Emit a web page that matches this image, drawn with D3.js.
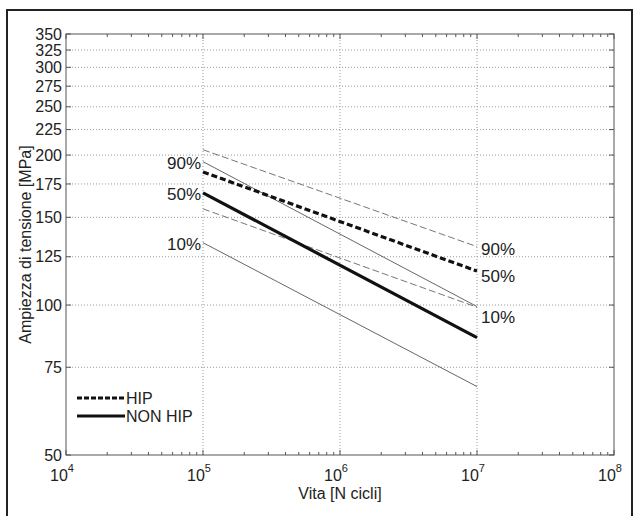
<!DOCTYPE html>
<html>
<head>
<meta charset="utf-8">
<script src="https://cdn.jsdelivr.net/npm/d3@7/dist/d3.min.js"></script>
<style>
  html, body { margin: 0; padding: 0; background: #fff; }
  svg { display: block; font-family: "Liberation Sans", Arial, sans-serif; }
</style>
</head>
<body>
<svg id="chart" width="633" height="516"></svg>
<script>
// ---- data ----
const cycles = [1e5, 1e7];
const hip50 = [185, 117];
const hip90 = [205, 131];
const hip10 = [156, 99];
const nonHip50 = [168, 86];
const nonHip90 = [194, 99.3];
const nonHip10 = [133.4, 68.6];
const yTicks = [50, 75, 100, 125, 150, 175, 200, 225, 250, 275, 300, 325, 350];
const xTicks = [1e4, 1e5, 1e6, 1e7, 1e8];
const xTickExp = ["4", "5", "6", "7", "8"];
const leftLabels = ["90%", "50%", "10%"];
const rightLabels = ["90%", "50%", "10%"];
const legendNames = ["HIP", "NON HIP"];

const svg = d3.select("#chart");
const L = 66, R = 614, T = 34, B = 455;
const x = d3.scaleLog().domain([1e4, 1e8]).range([L, R]);
const y = d3.scaleLog().domain([50, 350]).range([B, T]);

// outer scan frame
svg.append("rect").attr("x", 7).attr("y", 10).attr("width", 625).attr("height", 520)
  .attr("fill", "none").attr("stroke", "#222").attr("stroke-width", 2);

// grid
const g = svg.append("g");
g.selectAll("line.gy").data(yTicks.filter(d => d > 50 && d < 350)).join("line")
  .attr("x1", L).attr("x2", R).attr("y1", d => y(d)).attr("y2", d => y(d))
  .attr("stroke", "#999").attr("stroke-width", 1).attr("stroke-dasharray", "1,2");
g.selectAll("line.gx").data(xTicks.filter(d => d > 1e4 && d < 1e8)).join("line")
  .attr("x1", d => x(d)).attr("x2", d => x(d)).attr("y1", T).attr("y2", B)
  .attr("stroke", "#999").attr("stroke-width", 1).attr("stroke-dasharray", "1,2");

// axes (ticks inward)
const minor = [];
for (let e = 4; e < 8; e++) for (let m = 2; m <= 9; m++) minor.push(m * Math.pow(10, e));
const axG = svg.append("g").attr("stroke", "#555").attr("stroke-width", 1);
axG.selectAll("line.mb").data(minor).join("line")
  .attr("x1", d => x(d)).attr("x2", d => x(d)).attr("y1", B).attr("y2", B - 3);
axG.selectAll("line.mt").data(minor).join("line")
  .attr("x1", d => x(d)).attr("x2", d => x(d)).attr("y1", T).attr("y2", T + 3);
axG.selectAll("line.Mb").data(xTicks).join("line")
  .attr("x1", d => x(d)).attr("x2", d => x(d)).attr("y1", B).attr("y2", B - 5);
axG.selectAll("line.Mt").data(xTicks).join("line")
  .attr("x1", d => x(d)).attr("x2", d => x(d)).attr("y1", T).attr("y2", T + 5);
axG.selectAll("line.yl").data(yTicks).join("line")
  .attr("x1", L).attr("x2", L + 5).attr("y1", d => y(d)).attr("y2", d => y(d));
axG.selectAll("line.yr").data(yTicks).join("line")
  .attr("x1", R).attr("x2", R - 5).attr("y1", d => y(d)).attr("y2", d => y(d));
svg.append("rect").attr("x", L).attr("y", T).attr("width", R - L).attr("height", B - T)
  .attr("fill", "none").attr("stroke", "#555").attr("stroke-width", 1);

// y tick labels
svg.append("g").selectAll("text").data(yTicks).join("text")
  .attr("x", L - 4).attr("y", d => y(d)).attr("dy", "0.35em")
  .attr("text-anchor", "end").attr("font-size", 16).attr("fill", "#222")
  .text(d => d);

// x tick labels
const xl = svg.append("g").selectAll("text").data(xTicks).join("text")
  .attr("x", (d, i) => x(d) - 4).attr("y", 481)
  .attr("text-anchor", "middle").attr("font-size", 16).attr("fill", "#222");
xl.append("tspan").text("10");
xl.append("tspan").attr("dy", -9).attr("font-size", 11).text((d, i) => xTickExp[i]);

// axis titles
svg.append("text").attr("x", 340).attr("y", 499).attr("text-anchor", "middle")
  .attr("font-size", 16).attr("fill", "#222").text("Vita [N cicli]");
svg.append("text").attr("transform", "translate(31," + ((T + B) / 2) + ") rotate(-90)")
  .attr("text-anchor", "middle").attr("font-size", 16).attr("fill", "#222")
  .text("Ampiezza di tensione [MPa]");

// lines
const line = d3.line().x((d, i) => x(cycles[i])).y(d => y(d));
function draw(vals, color, width, dash) {
  svg.append("path").datum(vals).attr("d", line).attr("fill", "none")
    .attr("stroke", color).attr("stroke-width", width)
    .attr("stroke-dasharray", dash || null);
}
draw(hip90, "#777", 1, "7,3");
draw(hip10, "#777", 1, "7,3");
draw(nonHip90, "#666", 1);
draw(nonHip10, "#666", 1);
draw(hip50, "#111", 3.2, "6,3");
draw(nonHip50, "#111", 3.2);

// percentile labels
const leftVals = [nonHip90[0], nonHip50[0], nonHip10[0]];
svg.append("g").selectAll("text").data(leftLabels).join("text")
  .attr("x", x(cycles[0]) - 2).attr("y", (d, i) => y(leftVals[i]) + 1).attr("dy", "0.35em")
  .attr("text-anchor", "end").attr("font-size", 17).attr("fill", "#222").text(d => d);
const rightVals = [hip90[1], hip50[1], hip10[1]];
const rightShift = [2, 5, 10];
svg.append("g").selectAll("text").data(rightLabels).join("text")
  .attr("x", x(cycles[1]) + 4).attr("y", (d, i) => y(rightVals[i]) + rightShift[i]).attr("dy", "0.35em")
  .attr("text-anchor", "start").attr("font-size", 17).attr("fill", "#222").text(d => d);

// legend
const lg = svg.append("g");
lg.append("line").attr("x1", 77).attr("x2", 125).attr("y1", 398).attr("y2", 398)
  .attr("stroke", "#111").attr("stroke-width", 3).attr("stroke-dasharray", "5,2");
lg.append("line").attr("x1", 77).attr("x2", 125).attr("y1", 416).attr("y2", 416)
  .attr("stroke", "#111").attr("stroke-width", 3);
lg.selectAll("text").data(legendNames).join("text")
  .attr("x", 126).attr("y", (d, i) => 398 + i * 18).attr("dy", "0.35em")
  .attr("font-size", 16).attr("fill", "#222").text(d => d);
</script>
</body>
</html>
